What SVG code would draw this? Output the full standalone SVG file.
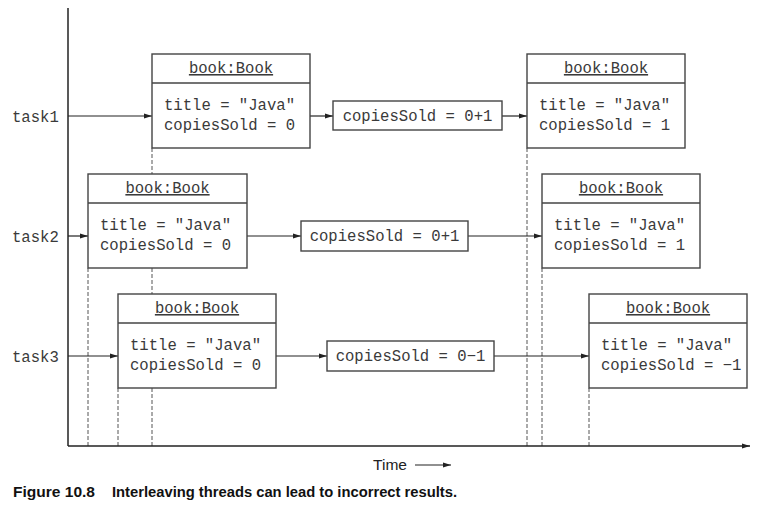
<svg xmlns="http://www.w3.org/2000/svg" width="763" height="509" viewBox="0 0 763 509">
<defs>
<marker id="ah" markerUnits="userSpaceOnUse" markerWidth="9" markerHeight="6" refX="8" refY="3" orient="auto">
<path d="M0,0.5 L8,3 L0,5.5 z" fill="#222"/>
</marker>
<style>
.mono{font-family:"Liberation Mono","DejaVu Sans Mono",monospace;font-size:15.6px;fill:#3a3a3a}
.box{fill:#fff;stroke:#444;stroke-width:1.4}
.div{stroke:#444;stroke-width:1.4}
.con{stroke:#222;stroke-width:1.2;fill:none}
.dash{stroke:#555;stroke-width:1;stroke-dasharray:4,2;fill:none}
.axis{stroke:#222;stroke-width:1.5;fill:none}
.cap{font-family:"Liberation Sans Narrow","Liberation Sans",Arial,sans-serif;font-weight:bold;font-size:14px;fill:#111}
</style>
</defs>
<rect width="763" height="509" fill="#fff"/>

<g id="timeline-dashes">
<line class="dash" x1="152" y1="148" x2="152" y2="446"/>
<line class="dash" x1="88" y1="268" x2="88" y2="446"/>
<line class="dash" x1="118" y1="388" x2="118" y2="446"/>
<line class="dash" x1="527" y1="148" x2="527" y2="446"/>
<line class="dash" x1="542" y1="268" x2="542" y2="446"/>
<line class="dash" x1="589" y1="388" x2="589" y2="446"/>
</g>

<g id="axes">
<line class="axis" x1="68" y1="8" x2="68" y2="446"/>
<line class="axis" x1="68" y1="446" x2="750" y2="446" marker-end="url(#ah)"/>
</g>

<g id="labels">
<text class="mono" x="12" y="122">task1</text>
<text class="mono" x="12" y="242">task2</text>
<text class="mono" x="12" y="362">task3</text>
</g>

<g id="connectors">
<line class="con" x1="68" y1="116" x2="152" y2="116" marker-end="url(#ah)"/>
<line class="con" x1="310" y1="116" x2="333" y2="116" marker-end="url(#ah)"/>
<line class="con" x1="502" y1="116" x2="527" y2="116" marker-end="url(#ah)"/>
<line class="con" x1="68" y1="236" x2="88" y2="236" marker-end="url(#ah)"/>
<line class="con" x1="247" y1="236" x2="301" y2="236" marker-end="url(#ah)"/>
<line class="con" x1="468" y1="236" x2="542" y2="236" marker-end="url(#ah)"/>
<line class="con" x1="68" y1="356" x2="118" y2="356" marker-end="url(#ah)"/>
<line class="con" x1="276" y1="356" x2="327" y2="356" marker-end="url(#ah)"/>
<line class="con" x1="494" y1="356" x2="589" y2="356" marker-end="url(#ah)"/>
</g>

<g id="book-task1-start">
<rect class="box" x="152" y="54" width="158" height="94"/>
<line class="div" x1="152" y1="83" x2="310" y2="83"/>
<text class="mono" x="231" y="73" text-anchor="middle" text-decoration="underline">book:Book</text>
<text class="mono" x="164" y="110">title = "Java"</text>
<text class="mono" x="164" y="130">copiesSold = 0</text>
</g>
<g id="op-task1">
<rect class="box" x="333" y="101" width="169" height="29"/>
<text class="mono" x="417.5" y="121" text-anchor="middle">copiesSold = 0+1</text>
</g>
<g id="book-task1-end">
<rect class="box" x="527" y="54" width="158" height="94"/>
<line class="div" x1="527" y1="83" x2="685" y2="83"/>
<text class="mono" x="606" y="73" text-anchor="middle" text-decoration="underline">book:Book</text>
<text class="mono" x="539" y="110">title = "Java"</text>
<text class="mono" x="539" y="130">copiesSold = 1</text>
</g>

<g id="book-task2-start">
<rect class="box" x="88" y="174" width="159" height="94"/>
<line class="div" x1="88" y1="203" x2="247" y2="203"/>
<text class="mono" x="167.5" y="193" text-anchor="middle" text-decoration="underline">book:Book</text>
<text class="mono" x="100" y="230">title = "Java"</text>
<text class="mono" x="100" y="250">copiesSold = 0</text>
</g>
<g id="op-task2">
<rect class="box" x="301" y="221" width="167" height="30"/>
<text class="mono" x="384.5" y="241" text-anchor="middle">copiesSold = 0+1</text>
</g>
<g id="book-task2-end">
<rect class="box" x="542" y="174" width="158" height="94"/>
<line class="div" x1="542" y1="203" x2="700" y2="203"/>
<text class="mono" x="621" y="193" text-anchor="middle" text-decoration="underline">book:Book</text>
<text class="mono" x="554" y="230">title = "Java"</text>
<text class="mono" x="554" y="250">copiesSold = 1</text>
</g>

<g id="book-task3-start">
<rect class="box" x="118" y="294" width="158" height="94"/>
<line class="div" x1="118" y1="323" x2="276" y2="323"/>
<text class="mono" x="197" y="313" text-anchor="middle" text-decoration="underline">book:Book</text>
<text class="mono" x="130" y="350">title = "Java"</text>
<text class="mono" x="130" y="370">copiesSold = 0</text>
</g>
<g id="op-task3">
<rect class="box" x="327" y="341" width="167" height="30"/>
<text class="mono" x="410.5" y="361" text-anchor="middle">copiesSold = 0−1</text>
</g>
<g id="book-task3-end">
<rect class="box" x="589" y="294" width="158" height="94"/>
<line class="div" x1="589" y1="323" x2="747" y2="323"/>
<text class="mono" x="668" y="313" text-anchor="middle" text-decoration="underline">book:Book</text>
<text class="mono" x="601" y="350">title = "Java"</text>
<text class="mono" x="601" y="370">copiesSold = −1</text>
</g>

<g id="time-label">
<text x="373" y="470" font-family="'Liberation Sans Narrow','Liberation Sans',Arial,sans-serif" font-size="15" fill="#222" textLength="34" lengthAdjust="spacingAndGlyphs">Time</text>
<line class="con" x1="415" y1="465" x2="451" y2="465" marker-end="url(#ah)"/>
</g>

<g id="caption">
<text class="cap" x="13" y="497" textLength="82" lengthAdjust="spacingAndGlyphs">Figure 10.8</text>
<text class="cap" x="112" y="497" textLength="345" lengthAdjust="spacingAndGlyphs">Interleaving threads can lead to incorrect results.</text>
</g>
</svg>
